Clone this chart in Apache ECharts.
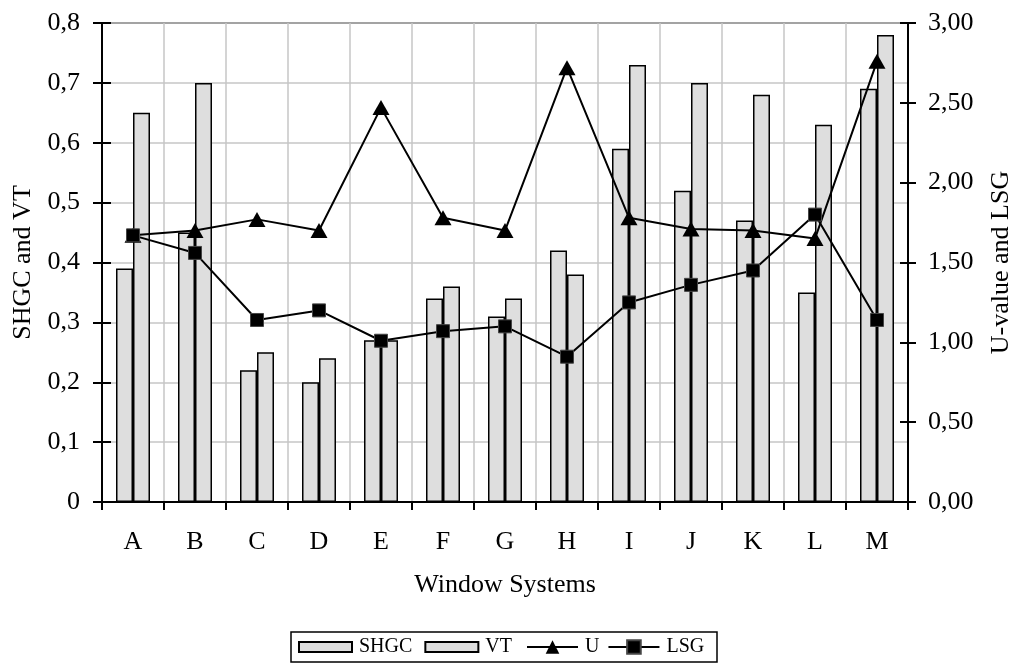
<!DOCTYPE html>
<html>
<head>
<meta charset="utf-8">
<script src="https://cdn.jsdelivr.net/npm/echarts@6/dist/echarts.min.js"></script>
<style>
  html, body { margin: 0; padding: 0; background: #fff; }
  #chart { width: 1016px; height: 664px; }
</style>
</head>
<body>
<div id="chart"></div>
<script>
// Window systems compared on optical and thermal properties
const categories = ['A', 'B', 'C', 'D', 'E', 'F', 'G', 'H', 'I', 'J', 'K', 'L', 'M'];
const shgc   = [0.39, 0.45, 0.22, 0.20, 0.27, 0.34, 0.31, 0.42, 0.59, 0.52, 0.47, 0.35, 0.69];
const vt     = [0.65, 0.70, 0.25, 0.24, 0.27, 0.36, 0.34, 0.38, 0.73, 0.70, 0.68, 0.63, 0.78];
const uValue = [1.67, 1.70, 1.77, 1.70, 2.47, 1.78, 1.70, 2.72, 1.78, 1.71, 1.70, 1.65, 2.76];
const lsg    = [1.67, 1.56, 1.14, 1.20, 1.01, 1.07, 1.10, 0.91, 1.25, 1.36, 1.45, 1.80, 1.14];

const FONT = 'Liberation Serif';
const BAR_FILL = '#dedede';

const leftFmt = v => (v === 0 ? '0' : v.toFixed(1).replace('.', ','));
const rightFmt = v => v.toFixed(2).replace('.', ',');

const chart = echarts.init(document.getElementById('chart'), null, { renderer: 'canvas' });

const legendText = { fontFamily: FONT, fontSize: 20, color: '#000', padding: [0, 0, 0, 2] };

chart.setOption({
  animation: false,
  backgroundColor: '#ffffff',
  textStyle: { fontFamily: FONT, color: '#000' },
  grid: {
    left: 102, right: 108, top: 23, bottom: 162,
    containLabel: false,
    outerBoundsMode: 'none',
    show: true, borderColor: '#000', borderWidth: 1.5, backgroundColor: 'transparent'
  },
  legend: [
    {
      data: [{ name: 'SHGC', icon: 'rect' }, { name: 'VT', icon: 'rect' }],
      left: 298, top: 637, padding: 0,
      itemWidth: 53, itemHeight: 10, itemGap: 12,
      textStyle: legendText
    },
    {
      data: ['U', 'LSG'],
      left: 526, top: 637, padding: 0,
      itemWidth: 51, itemHeight: 17, itemGap: 8,
      textStyle: legendText
    }
  ],
  graphic: [{
    type: 'rect',
    shape: { x: 291, y: 632, width: 426, height: 30 },
    style: { fill: 'none', stroke: '#000', lineWidth: 1.5 },
    z: 0
  }],
  xAxis: {
    type: 'category',
    data: categories,
    boundaryGap: true,
    name: 'Window Systems',
    nameLocation: 'middle',
    nameGap: 70,
    nameTextStyle: { fontFamily: FONT, fontSize: 26, color: '#000' },
    axisLine: { lineStyle: { color: '#000', width: 2 } },
    axisTick: { show: true, length: 8, lineStyle: { color: '#000', width: 2 } },
    axisLabel: { fontFamily: FONT, fontSize: 26, color: '#000', margin: 27 },
    splitLine: { show: true, lineStyle: { color: '#c6c6c6', width: 1.5 } }
  },
  yAxis: [
    {
      type: 'value',
      min: 0, max: 0.8, interval: 0.1,
      position: 'left',
      name: 'SHGC and VT',
      nameLocation: 'middle',
      nameRotate: 90,
      nameGap: 66,
      nameTextStyle: { fontFamily: FONT, fontSize: 26, color: '#000' },
      axisLine: { show: true, lineStyle: { color: '#000', width: 2 } },
      axisTick: { show: true, length: 9, lineStyle: { color: '#000', width: 2 } },
      axisLabel: { fontFamily: FONT, fontSize: 26, color: '#000', margin: 22, formatter: leftFmt },
      splitLine: { show: true, lineStyle: { color: '#c6c6c6', width: 1.5 } }
    },
    {
      type: 'value',
      min: 0, max: 3, interval: 0.5,
      position: 'right',
      name: 'U-value and LSG',
      nameLocation: 'middle',
      nameRotate: 90,
      nameGap: 80,
      nameTextStyle: { fontFamily: FONT, fontSize: 26, color: '#000' },
      axisLine: { show: true, lineStyle: { color: '#000', width: 2 } },
      axisTick: { show: true, length: 8, lineStyle: { color: '#000', width: 2 } },
      axisLabel: { fontFamily: FONT, fontSize: 26, color: '#000', margin: 20, formatter: rightFmt },
      splitLine: { show: false }
    },
    // inner halves of the crossing tick marks
    {
      type: 'value',
      min: 0, max: 0.8, interval: 0.1,
      position: 'left',
      axisLine: { show: false },
      axisTick: { show: true, inside: true, length: 9, lineStyle: { color: '#000', width: 2 } },
      axisLabel: { show: false },
      splitLine: { show: false }
    },
    {
      type: 'value',
      min: 0, max: 3, interval: 0.5,
      position: 'right',
      axisLine: { show: false },
      axisTick: { show: true, inside: true, length: 8, lineStyle: { color: '#000', width: 2 } },
      axisLabel: { show: false },
      splitLine: { show: false }
    }
  ],
  series: [
    {
      name: 'SHGC',
      type: 'bar',
      yAxisIndex: 0,
      data: shgc,
      barWidth: 17,
      barGap: '0%',
      itemStyle: { color: BAR_FILL, borderColor: '#000', borderWidth: 1.5 },
      z: 2
    },
    {
      name: 'VT',
      type: 'bar',
      yAxisIndex: 0,
      data: vt,
      barWidth: 17,
      barGap: '0%',
      itemStyle: { color: BAR_FILL, borderColor: '#000', borderWidth: 1.5 },
      z: 2
    },
    {
      name: 'U',
      type: 'line',
      yAxisIndex: 1,
      data: uValue,
      symbol: 'triangle',
      symbolSize: [17, 15],
      lineStyle: { color: '#000', width: 2 },
      itemStyle: { color: '#000', borderColor: '#000', borderWidth: 0 },
      z: 4
    },
    {
      name: 'LSG',
      type: 'line',
      yAxisIndex: 1,
      data: lsg,
      symbol: 'rect',
      symbolSize: 13,
      lineStyle: { color: '#000', width: 2 },
      itemStyle: { color: '#000', borderColor: '#444', borderWidth: 1 },
      z: 5
    }
  ]
});
</script>
</body>
</html>
